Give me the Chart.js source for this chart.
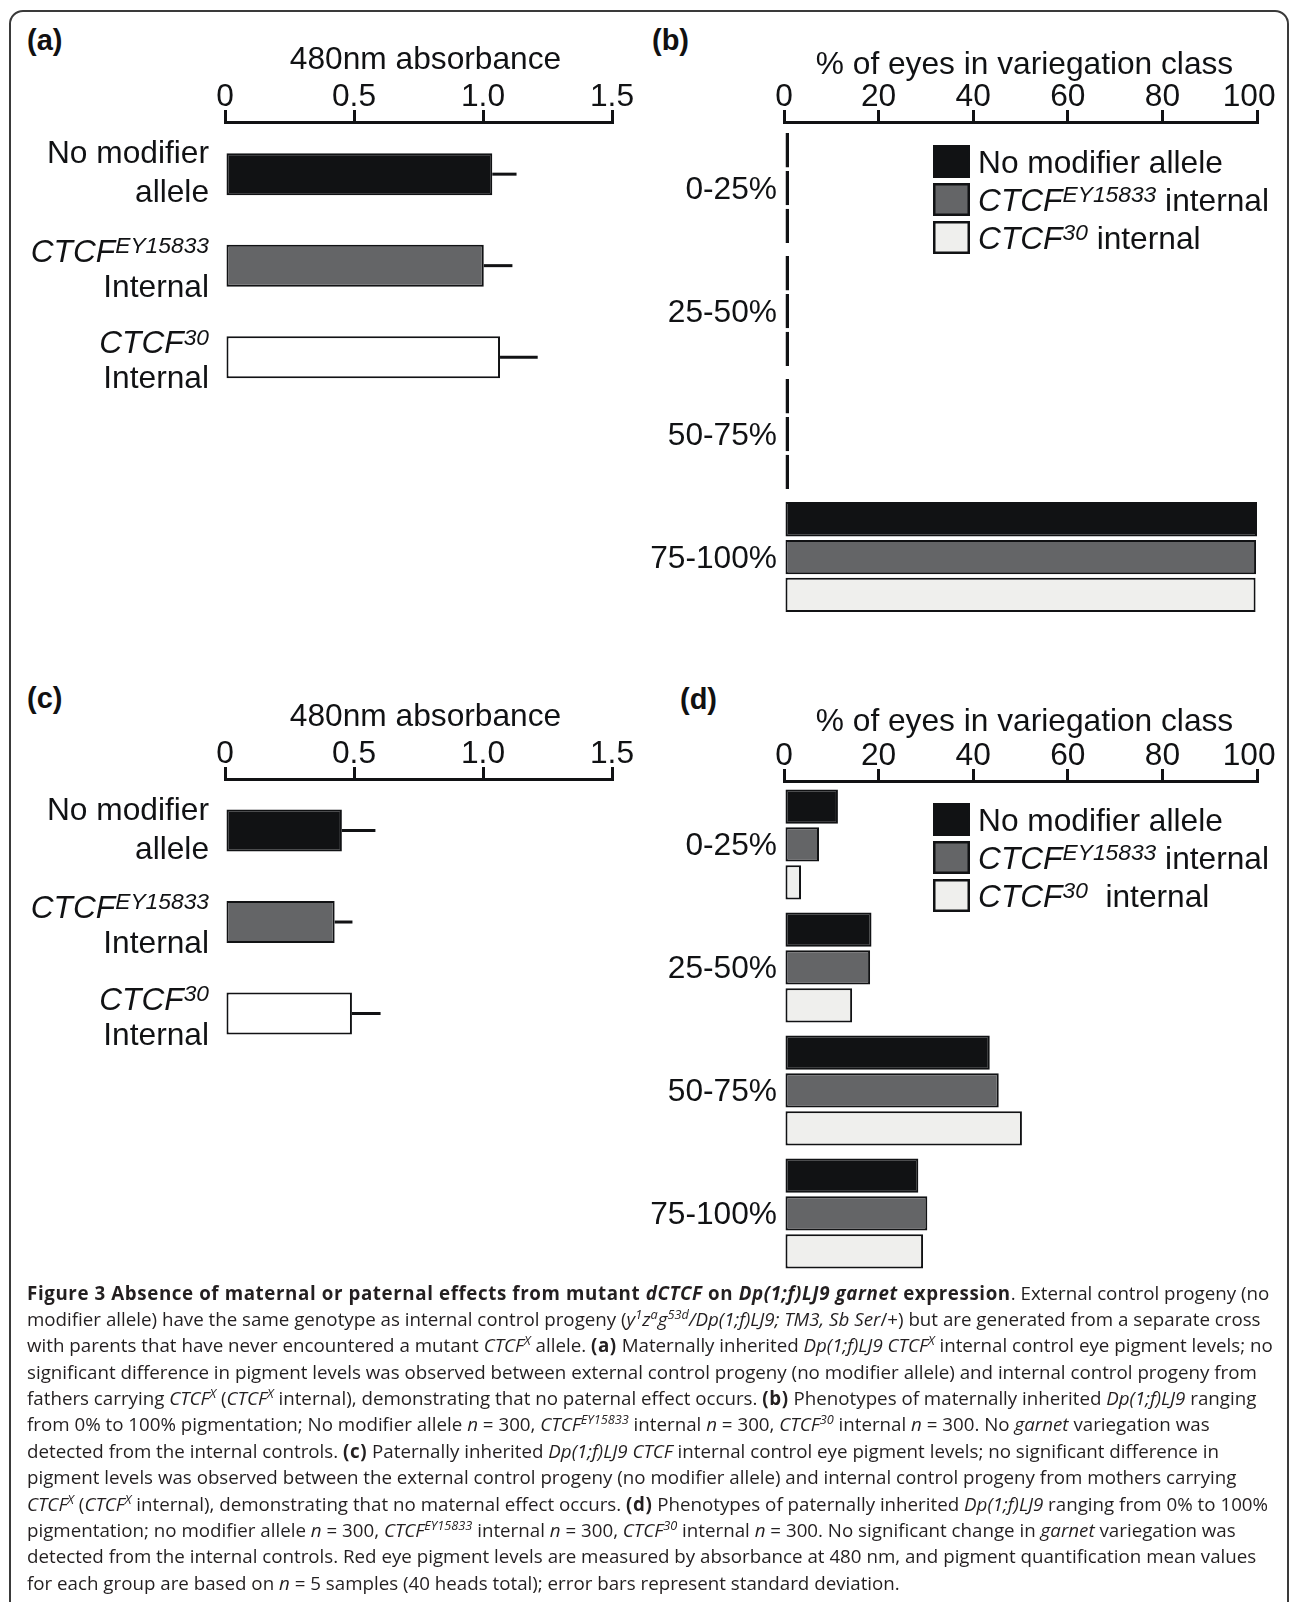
<!DOCTYPE html>
<html>
<head>
<meta charset="utf-8">
<script src="https://cdn.jsdelivr.net/npm/chart.js@4.4.1/dist/chart.umd.min.js"></script>
<style>
html, body { margin: 0; padding: 0; background: #fff; }
body { width: 1295px; height: 1602px; position: relative; overflow: hidden; font-family: 'Liberation Sans', Arial, sans-serif; color: #111; }
.frame { position: absolute; left: 9px; top: 10px; width: 1276px; height: 1700px; border: 2px solid #3a3a3a; border-radius: 14px; }
.panel { position: absolute; }
.tag { position: absolute; font-weight: bold; font-size: 29px; line-height: 29px; }
#caption { position: absolute; left: 27px; top: 1280px; font-family: 'Open Sans', sans-serif; font-size: 16px; color: #231f20; }
#caption div { width: max-content; white-space: nowrap; height: 26.4px; line-height: 26.4px; }
#caption b { letter-spacing: 0.6px; }
#caption sup { font-size: 0.68em; line-height: 0; vertical-align: 0.55em; letter-spacing: 0; }
</style>
</head>
<body>
<div class="frame"></div>

<div class="tag" style="left:27px;top:26px">(a)</div>
<div class="tag" style="left:652px;top:26px">(b)</div>
<div class="tag" style="left:27px;top:684px">(c)</div>
<div class="tag" style="left:680px;top:685px">(d)</div>

<div class="panel" style="left:0;top:0;width:640px;height:420px"><canvas id="chartA"></canvas></div>
<div class="panel" style="left:640px;top:0;width:655px;height:640px"><canvas id="chartB"></canvas></div>
<div class="panel" style="left:0;top:640px;width:640px;height:430px"><canvas id="chartC"></canvas></div>
<div class="panel" style="left:640px;top:640px;width:655px;height:650px"><canvas id="chartD"></canvas></div>

<div id="caption">
<div><b>Figure 3 Absence of maternal or paternal effects from mutant <i>dCTCF</i> on <i>Dp(1;f)LJ9 garnet</i> expression</b>. External control progeny (no</div>
<div>modifier allele) have the same genotype as internal control progeny (<i>y<sup>1</sup>z<sup>a</sup>g<sup>53d</sup>/Dp(1;f)LJ9; TM3, Sb Ser</i>/+) but are generated from a separate cross</div>
<div>with parents that have never encountered a mutant <i>CTCF<sup>X</sup></i> allele. <b>(a)</b> Maternally inherited <i>Dp(1;f)LJ9 CTCF<sup>X</sup></i> internal control eye pigment levels; no</div>
<div>significant difference in pigment levels was observed between external control progeny (no modifier allele) and internal control progeny from</div>
<div>fathers carrying <i>CTCF<sup>X</sup></i> (<i>CTCF<sup>X</sup></i> internal), demonstrating that no paternal effect occurs. <b>(b)</b> Phenotypes of maternally inherited <i>Dp(1;f)LJ9</i> ranging</div>
<div>from 0% to 100% pigmentation; No modifier allele <i>n</i> = 300, <i>CTCF<sup>EY15833</sup></i> internal <i>n</i> = 300, <i>CTCF<sup>30</sup></i> internal <i>n</i> = 300. No <i>garnet</i> variegation was</div>
<div>detected from the internal controls. <b>(c)</b> Paternally inherited <i>Dp(1;f)LJ9 CTCF</i> internal control eye pigment levels; no significant difference in</div>
<div>pigment levels was observed between the external control progeny (no modifier allele) and internal control progeny from mothers carrying</div>
<div><i>CTCF<sup>X</sup></i> (<i>CTCF<sup>X</sup></i> internal), demonstrating that no maternal effect occurs. <b>(d)</b> Phenotypes of paternally inherited <i>Dp(1;f)LJ9</i> ranging from 0% to 100%</div>
<div>pigmentation; no modifier allele <i>n</i> = 300, <i>CTCF<sup>EY15833</sup></i> internal <i>n</i> = 300, <i>CTCF<sup>30</sup></i> internal <i>n</i> = 300. No significant change in <i>garnet</i> variegation was</div>
<div>detected from the internal controls. Red eye pigment levels are measured by absorbance at 480 nm, and pigment quantification mean values</div>
<div>for each group are based on <i>n</i> = 5 samples (40 heads total); error bars represent standard deviation.</div>
</div>

<script>
// --- data ---
// markup: *italic*, ^superscript^, | line break
const genotypeLabels = ['No modifier|allele', '*CTCF*^EY15833^|Internal', '*CTCF*^30^|Internal'];
const seriesNames = ['No modifier allele', '*CTCF*^EY15833^ internal', '*CTCF*^30^ internal'];
const seriesNamesD = ['No modifier allele', '*CTCF*^EY15833^ internal', '*CTCF*^30^  internal']; // (d) has a wider gap
const variegationClasses = ['0-25%', '25-50%', '50-75%', '75-100%'];

const absTickLabels = ['0', '0.5', '1.0', '1.5'];
const pctTickLabels = ['0', '20', '40', '60', '80', '100\u2002'];

// (a) maternally inherited, 480nm absorbance (mean, sd)
const maternalMean = [1.036, 1.003, 1.066];
const maternalSD = [0.094, 0.111, 0.146];
// (c) paternally inherited
const paternalMean = [0.453, 0.425, 0.492];
const paternalSD = [0.130, 0.069, 0.111];

// (b) % eyes per variegation class, maternal
const matNoModifier = [0, 0, 0, 100];
const matEY15833 = [0, 0, 0, 99.8];
const matCTCF30 = [0, 0, 0, 99.7];
// (d) paternal
const patNoModifier = [11.4, 18.5, 43.5, 28.4];
const patEY15833 = [7.4, 18.2, 45.4, 30.3];
const patCTCF30 = [3.6, 14.4, 50.3, 29.4];

const ink = '#111214';
const fills = ['#111214', '#646567', '#efefed'];
const family = "'Liberation Sans', Arial, sans-serif";
const fsz = 31.7;

Chart.defaults.font.family = family;
Chart.defaults.font.size = fsz;
Chart.defaults.color = ink;

// draws a label with italic / superscript pieces
function drawRich(ctx, spec, x, y, size, align) {
    const parts = [];
    spec.replace(/\*([^*]+)\*|\^([^^]+)\^|([^*^]+)/g, (m, it, sup, plain) => {
        if (it) parts.push({ t: it, italic: true, sup: false });
        else if (sup) parts.push({ t: sup, italic: true, sup: true });
        else parts.push({ t: plain, italic: false, sup: false });
        return m;
    });
    const fontOf = p => (p.italic ? 'italic ' : '') + (p.sup ? (size * 0.72).toFixed(1) : size) + 'px ' + family;
    let w = 0;
    parts.forEach(p => { ctx.font = fontOf(p); p.w = ctx.measureText(p.t).width; w += p.w; });
    let cx = align === 'right' ? x - w : x;
    parts.forEach(p => {
        ctx.font = fontOf(p);
        ctx.fillText(p.t, cx, p.sup ? y - size * 0.27 : y);
        cx += p.w;
    });
}

const richLabels = {
    id: 'richLabels',
    afterDraw(chart, args, opts) {
        const { ctx, chartArea } = chart;
        const yScale = chart.scales.y;
        ctx.save();
        ctx.fillStyle = ink;
        ctx.textBaseline = 'alphabetic';
        opts.labels.forEach((lab, i) => {
            const cy = yScale.getPixelForValue(i);
            const lines = lab.split('|');
            // rows that start with a superscripted name sit a bit lower
            const raised = lines[0].includes('^');
            lines.forEach((ln, k) => {
                let by = cy + 11;
                if (lines.length > 1) by = k === 0 ? cy + (raised ? -4 : -11) : cy + (raised ? 31 : 28);
                drawRich(ctx, ln, chartArea.left - opts.gap, by, fsz, 'right');
            });
        });
        ctx.restore();
    }
};

// axis title, nudged right of the axis centre as in the figure
const axisTitle = {
    id: 'axisTitle',
    afterDraw(chart, args, opts) {
        const { ctx, chartArea } = chart;
        ctx.save();
        ctx.fillStyle = ink;
        ctx.font = fsz + 'px ' + family;
        ctx.textAlign = 'center';
        ctx.textBaseline = 'middle';
        ctx.fillText(opts.text, (chartArea.left + chartArea.right) / 2 + opts.dx, chart.scales.x.top + fsz / 2);
        ctx.restore();
    }
};

const errorBars = {
    id: 'errorBars',
    afterDatasetsDraw(chart, args, opts) {
        const { ctx } = chart;
        const xScale = chart.scales.x;
        const ds = chart.data.datasets[0];
        ctx.save();
        ctx.strokeStyle = ink;
        ctx.lineWidth = 3;
        chart.getDatasetMeta(0).data.forEach((bar, i) => {
            const end = xScale.getPixelForValue(ds.data[i].x + opts.sd[i]);
            ctx.beginPath();
            ctx.moveTo(bar.x, bar.y);
            ctx.lineTo(end, bar.y);
            ctx.stroke();
        });
        ctx.restore();
    }
};

const boxLegend = {
    id: 'boxLegend',
    afterDraw(chart, args, opts) {
        const { ctx, chartArea } = chart;
        ctx.save();
        ctx.textBaseline = 'alphabetic';
        chart.data.datasets.forEach((ds, i) => {
            const bx = chartArea.left + 149;
            const by = chartArea.top + opts.top + i * 38;
            ctx.fillStyle = ds.backgroundColor;
            ctx.fillRect(bx, by, 37, 33);
            ctx.strokeStyle = ink;
            ctx.lineWidth = 2.5;
            ctx.strokeRect(bx + 1.25, by + 1.25, 34.5, 30.5);
            ctx.fillStyle = ink;
            drawRich(ctx, ds.label, bx + 45, by + 16.5 + 11, fsz, 'left');
        });
        ctx.restore();
    }
};

function topAxis(max, step, labels, height) {
    return {
        position: 'top',
        min: 0,
        max: max,
        ticks: {
            stepSize: step,
            padding: -3,
            maxRotation: 0,
            autoSkip: false,
            font: { size: fsz, lineHeight: 1 },
            callback: (v, i) => labels[i]
        },
        grid: { drawOnChartArea: false, drawTicks: true, tickLength: 12, tickWidth: 3, lineWidth: 3, tickColor: ink },
        border: { display: true, color: ink, width: 3 },
        title: { display: false },
        afterFit: s => { s.height = height; }
    };
}

// index axis: linear so the first row can sit a little lower than half a step below the axis
function rowAxis(count, first, last) {
    return {
        type: 'linear',
        reverse: true,
        offset: false,
        display: false,
        min: first,
        max: last,
        afterBuildTicks: s => { s.ticks = Array.from({ length: count }, (_, i) => ({ value: i })); }
    };
}

function absorbanceChart(id, means, sds, g) {
    const bottom = g.canvasH - (g.top + g.axisH + (g.last - g.first) * g.step);
    return new Chart(document.getElementById(id), {
        type: 'bar',
        data: {
            datasets: [{
                data: means.map((v, i) => ({ x: v, y: i })),
                backgroundColor: ['#111214', '#646567', '#ffffff'],
                borderColor: ink,
                borderWidth: 2,
                borderSkipped: false,
                barPercentage: 0.459,
                categoryPercentage: 1
            }]
        },
        options: {
            indexAxis: 'y',
            responsive: true,
            maintainAspectRatio: false,
            animation: false,
            layout: { padding: { left: 225, right: 28, top: g.top, bottom: bottom } },
            plugins: {
                legend: { display: false },
                tooltip: { enabled: false },
                richLabels: { labels: genotypeLabels, gap: 16 },
                errorBars: { sd: sds },
                axisTitle: { text: '480nm absorbance', dx: 7 }
            },
            scales: {
                x: topAxis(1.5, 0.5, absTickLabels, g.axisH),
                y: rowAxis(genotypeLabels.length, g.first, g.last)
            }
        },
        plugins: [richLabels, errorBars, axisTitle]
    });
}

function variegationChart(id, series, names, g) {
    const bottom = g.canvasH - (g.top + g.axisH + (g.last - g.first) * g.step);
    return new Chart(document.getElementById(id), {
        type: 'bar',
        data: {
            datasets: series.map((vals, k) => ({
                label: names[k],
                data: vals.map((v, i) => ({ x: v, y: i })),
                backgroundColor: fills[k],
                borderColor: ink,
                borderWidth: 2,
                borderSkipped: false,
                barPercentage: 0.907,
                categoryPercentage: 0.922,
                minBarLength: 5,
                clip: false
            }))
        },
        options: {
            indexAxis: 'y',
            responsive: true,
            maintainAspectRatio: false,
            animation: false,
            layout: { padding: { left: 144, right: 38, top: g.top, bottom: bottom } },
            plugins: {
                legend: { display: false },
                tooltip: { enabled: false },
                richLabels: { labels: variegationClasses, gap: 7 },
                boxLegend: { top: g.legendTop },
                axisTitle: { text: '% of eyes in variegation class', dx: 4 }
            },
            scales: {
                x: topAxis(100, 20, pctTickLabels, g.axisH),
                y: rowAxis(variegationClasses.length, g.first, g.last)
            }
        },
        plugins: [richLabels, boxLegend, axisTitle]
    });
}

absorbanceChart('chartA', maternalMean, maternalSD,
    { canvasH: 420, top: 44.5, axisH: 77.5, first: -0.57, last: 2.5, step: 91.5 });
absorbanceChart('chartC', paternalMean, paternalSD,
    { canvasH: 430, top: 61, axisH: 78, first: -0.563, last: 2.5, step: 91.5 });
variegationChart('chartB', [matNoModifier, matEY15833, matCTCF30], seriesNames,
    { canvasH: 640, top: 49.5, axisH: 72.5, first: -0.537, last: 3.5, step: 123, legendTop: 23 });
variegationChart('chartD', [patNoModifier, patEY15833, patCTCF30], seriesNamesD,
    { canvasH: 650, top: 66, axisH: 75, first: -0.516, last: 3.5, step: 123, legendTop: 22 });

// caption: size the font so the fourth line spans the same width as in the figure
const cap = document.getElementById('caption');
const probe = cap.children[3];
const fs = 16 * 1230 / probe.getBoundingClientRect().width;
cap.style.fontSize = fs.toFixed(2) + 'px';
const baseOff = (26.4 - 1.362 * fs) / 2 + 1.069 * fs;
cap.style.top = (1300 - baseOff).toFixed(1) + 'px';
</script>
</body>
</html>
